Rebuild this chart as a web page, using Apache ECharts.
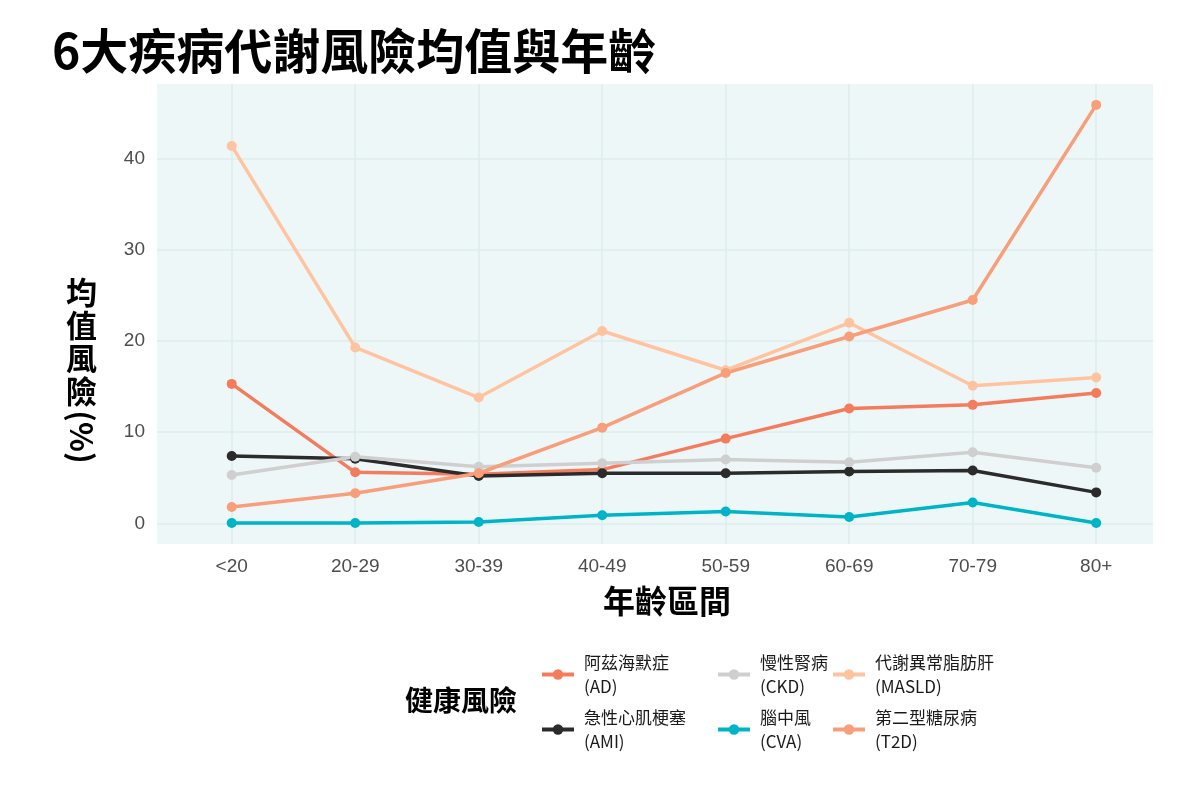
<!DOCTYPE html>
<html>
<head>
<meta charset="utf-8">
<script src="https://cdn.jsdelivr.net/npm/echarts@6/dist/echarts.min.js"></script>
<style>
  html, body { margin: 0; padding: 0; background: #fff; }
  #chart { width: 1200px; height: 800px; }
</style>
</head>
<body>
<div id="chart"></div>
<script>
const ageGroups = ["<20", "20-29", "30-39", "40-49", "50-59", "60-69", "70-79", "80+"];
const yTicks = [0, 10, 20, 30, 40];

const adValues = [15.3, 5.6, 5.4, 5.9, 9.3, 12.6, 13.0, 14.3];
const amiValues = [7.4, 7.1, 5.2, 5.5, 5.5, 5.7, 5.8, 3.4];
const ckdValues = [5.3, 7.3, 6.2, 6.6, 7.0, 6.7, 7.8, 6.1];
const cvaValues = [0.05, 0.05, 0.15, 0.9, 1.3, 0.7, 2.3, 0.05];
const masldValues = [41.4, 19.3, 13.8, 21.1, 16.8, 22.0, 15.1, 16.0];
const t2dValues = [1.8, 3.3, 5.5, 10.5, 16.5, 20.5, 24.5, 45.9];

const diseases = [
  { name: "阿茲海默症\n(AD)", values: adValues, color: "#F47C5D" },
  { name: "急性心肌梗塞\n(AMI)", values: amiValues, color: "#2B2B2B" },
  { name: "慢性腎病\n(CKD)", values: ckdValues, color: "#CFCFCF" },
  { name: "腦中風\n(CVA)", values: cvaValues, color: "#00B4C8" },
  { name: "代謝異常脂肪肝\n(MASLD)", values: masldValues, color: "#FFC49F" },
  { name: "第二型糖尿病\n(T2D)", values: t2dValues, color: "#F89E7B" },
];

const cjk = '"Noto Sans CJK TC", "Noto Sans", sans-serif';
const tickFont = '"Liberation Sans", Arial, sans-serif';

const chart = echarts.init(document.getElementById("chart"), null, { renderer: "canvas" });

// ggplot-style legend: 3 columns of 2 keys each
const legendBase = {
  orient: "vertical",
  top: 644,
  padding: 0,
  itemWidth: 32,
  itemHeight: 13,
  itemGap: -6,
  lineStyle: { width: 4 },
  textStyle: {
    fontFamily: cjk,
    fontSize: 17,
    color: "#1a1a1a",
    lineHeight: 24,
    padding: [13, 0, 0, 5],
  },
  selectedMode: false,
};

chart.setOption({
  animation: false,
  backgroundColor: "#ffffff",
  title: {
    text: "6大疾病代謝風險均值與年齡",
    left: 47,
    top: 22,
    textStyle: { fontFamily: cjk, fontSize: 48, fontWeight: "bold", color: "#000" },
  },
  grid: {
    left: 157,
    right: 47,
    top: 84,
    bottom: 256,
    show: true,
    backgroundColor: "#EEF7F8",
    borderWidth: 0,
  },
  xAxis: {
    type: "value",
    min: -0.605,
    max: 7.46,
    axisLine: { show: false },
    axisTick: { show: false, customValues: ageGroups.map((_, i) => i) },
    axisLabel: {
      customValues: ageGroups.map((_, i) => i),
      formatter: (v) => ageGroups[Math.round(v)],
      fontFamily: tickFont,
      fontSize: 19,
      color: "#4D4D4D",
      margin: 13,
    },
    splitLine: { show: true, lineStyle: { color: "#DDECEC", width: 1.5 } },
  },
  yAxis: {
    type: "value",
    min: -2.26,
    max: 48.19,
    axisLine: { show: false },
    axisTick: { show: false, customValues: yTicks },
    axisLabel: {
      customValues: yTicks,
      fontFamily: tickFont,
      fontSize: 19,
      color: "#4D4D4D",
      margin: 12,
    },
    splitLine: { show: true, lineStyle: { color: "#DDECEC", width: 1.5 } },
  },
  legend: [
    Object.assign({}, legendBase, { left: 540, data: [diseases[0].name, diseases[1].name] }),
    Object.assign({}, legendBase, { left: 716, data: [diseases[2].name, diseases[3].name] }),
    Object.assign({}, legendBase, { left: 831, data: [diseases[4].name, diseases[5].name] }),
  ],
  graphic: [
    {
      type: "text",
      left: 66,
      top: 276,
      style: {
        text: "均\n值\n風\n險",
        font: "bold 31px " + cjk,
        lineHeight: 33,
        fill: "#000",
      },
    },
    {
      type: "text",
      x: 82,
      y: 437,
      rotation: -Math.PI / 2,
      style: {
        text: "(%)",
        font: "bold 31px " + cjk,
        align: "center",
        verticalAlign: "middle",
        fill: "#000",
      },
    },
    {
      type: "text",
      x: 667,
      y: 601,
      style: {
        text: "年齡區間",
        font: "bold 32px " + cjk,
        align: "center",
        verticalAlign: "middle",
        fill: "#000",
      },
    },
    {
      type: "text",
      left: 405,
      top: 686,
      style: { text: "健康風險", font: "bold 28px " + cjk, fill: "#000" },
    },
  ],
  series: diseases.map((d) => ({
    name: d.name,
    type: "line",
    data: d.values.map((v, i) => [i, v]),
    symbol: "circle",
    symbolSize: 10,
    lineStyle: { width: 3.5, color: d.color },
    itemStyle: { color: d.color },
    emphasis: { disabled: true },
  })),
});
</script>
</body>
</html>
